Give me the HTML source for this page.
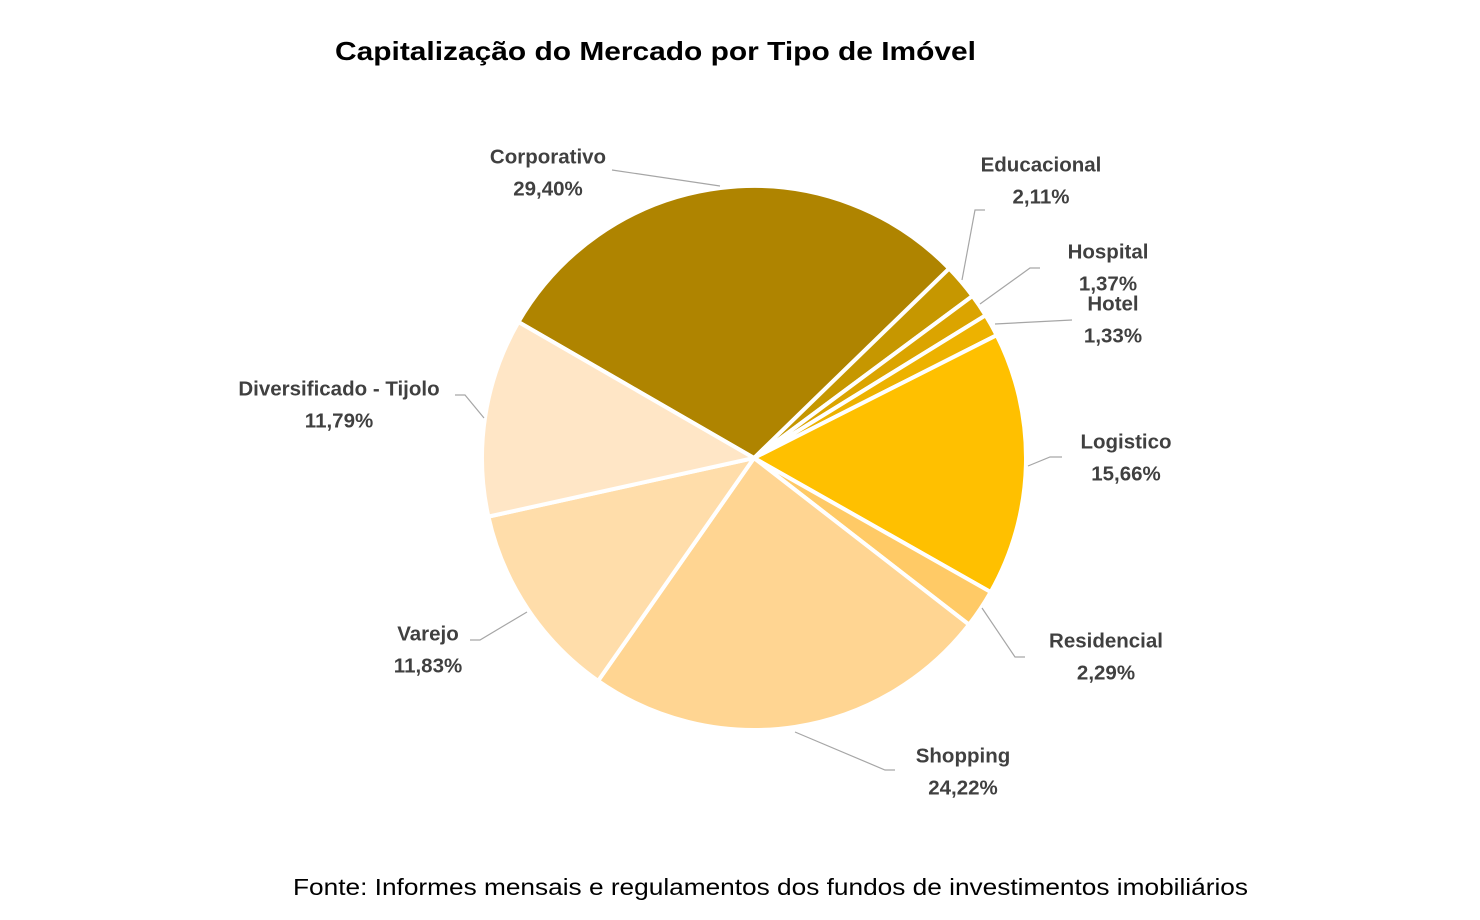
<!DOCTYPE html>
<html><head><meta charset="utf-8"><style>
html,body{margin:0;padding:0;background:#fff;width:1480px;height:920px;overflow:hidden}
svg{display:block}
.l{font-family:"Liberation Sans",sans-serif;font-weight:bold;font-size:20.5px;fill:#404040}
</style></head><body>
<svg id="s" width="1480" height="920" xmlns="http://www.w3.org/2000/svg">
<text x="335" y="60" textLength="641" lengthAdjust="spacingAndGlyphs" style="font-family:'Liberation Sans',sans-serif;font-weight:bold;font-size:26px;fill:#000">Capitalização do Mercado por Tipo de Imóvel</text>
<g id="pie"></g>
<g stroke="#a6a6a6" stroke-width="1.2" fill="none">
<polyline points="612,170 720,186"/>
<polyline points="985,210 975,210 962,280"/>
<polyline points="1040,268 1030,268 980,304"/>
<polyline points="1072,320 995,324"/>
<polyline points="1062,457 1050,457 1028,466"/>
<polyline points="1025,657 1015,657 982,608"/>
<polyline points="895,770 885,770 795,732"/>
<polyline points="470,640 480,640 527,612"/>
<polyline points="455,395 465,395 484,418"/>
</g>
<g class="l" text-anchor="middle" dominant-baseline="central">
<text x="548" y="157">Corporativo</text><text x="548" y="189">29,40%</text>
<text x="1041" y="165">Educacional</text><text x="1041" y="197">2,11%</text>
<text x="1108" y="252">Hospital</text><text x="1108" y="284">1,37%</text>
<text x="1113" y="304">Hotel</text><text x="1113" y="336">1,33%</text>
<text x="1126" y="442">Logistico</text><text x="1126" y="474">15,66%</text>
<text x="1106" y="641">Residencial</text><text x="1106" y="673">2,29%</text>
<text x="963" y="756">Shopping</text><text x="963" y="788">24,22%</text>
<text x="428" y="634">Varejo</text><text x="428" y="666">11,83%</text>
<text x="339" y="389">Diversificado - Tijolo</text><text x="339" y="421">11,79%</text>
</g>
<text x="293" y="895" textLength="955" lengthAdjust="spacingAndGlyphs" style="font-family:'Liberation Sans',sans-serif;font-size:23px;fill:#000">Fonte: Informes mensais e regulamentos dos fundos de investimentos imobiliários</text>
</svg>
<script>
var d=[[29.40,"#AF8400"],[2.11,"#C69700"],[1.37,"#DBA400"],[1.33,"#EDB200"],[15.66,"#FFC000"],[2.29,"#FFCA66"],[24.22,"#FFD592"],[11.83,"#FFDDAA"],[11.79,"#FFE6C6"]];
var cx=754,cy=458,r=272,a=-60,h="";
function p(t){var q=t*Math.PI/180;return [cx+r*Math.sin(q),cy-r*Math.cos(q)];}
d.forEach(function(s){var b=a+s[0]*3.6,p1=p(a),p2=p(b);
h+='<path d="M'+cx+','+cy+'L'+p1[0].toFixed(2)+','+p1[1].toFixed(2)+'A'+r+','+r+' 0 '+(b-a>180?1:0)+' 1 '+p2[0].toFixed(2)+','+p2[1].toFixed(2)+'Z" fill="'+s[1]+'" stroke="#fff" stroke-width="4" stroke-linejoin="round"/>';a=b;});
document.getElementById("pie").innerHTML=h;
</script>
</body></html>
